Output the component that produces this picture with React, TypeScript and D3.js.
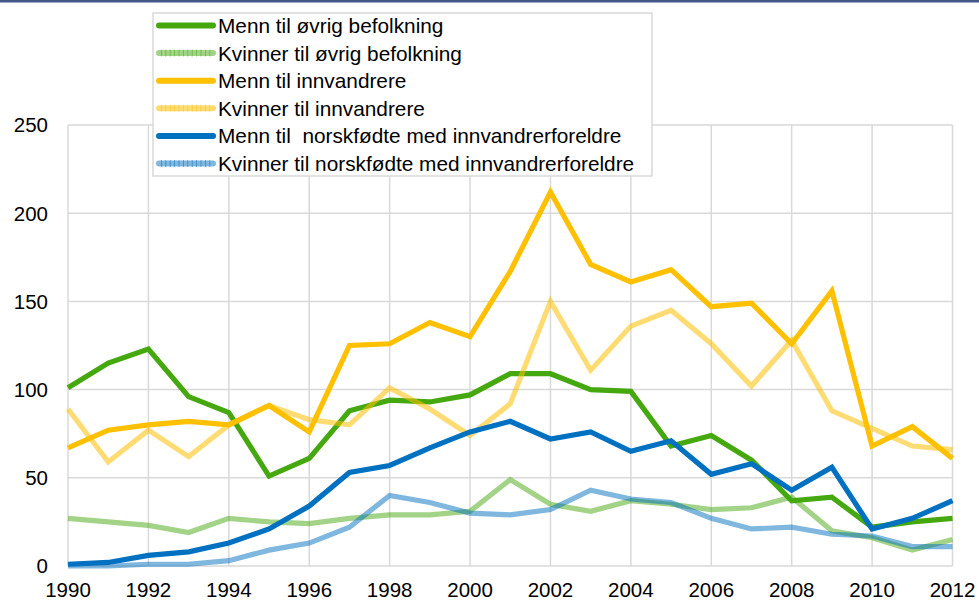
import React from 'react';
import * as d3 from 'd3';

const years = d3.range(1990, 2013);
const yTicks = [0, 50, 100, 150, 200, 250];
const xTicks = d3.range(1990, 2013, 2);

const menOvrig = [101, 115, 123, 96, 87, 51, 61, 88, 94, 93, 97, 109, 109, 100, 99, 68, 74, 60, 37, 39, 22, 25, 27];
const womenOvrig = [27, 25, 23, 19, 27, 25, 24, 27, 29, 29, 31, 49, 35, 31, 37, 35, 32, 33, 39, 20, 16, 9, 15];
const menInnv = [67, 77, 80, 82, 80, 91, 76, 125, 126, 138, 130, 167, 212, 171, 161, 168, 147, 149, 126, 156, 68, 79, 61];
const womenInnv = [89, 59, 77, 62, 80, 91, 83, 80, 101, 89, 74, 92, 150, 111, 136, 145, 126, 102, 128, 88, 78, 68, 66];
const menNorsk = [1, 2, 6, 8, 13, 21, 34, 53, 57, 67, 76, 82, 72, 76, 65, 71, 52, 58, 43, 56, 21, 27, 37];
const womenNorsk = [0, 0, 1, 1, 3, 9, 13, 22, 40, 36, 30, 29, 32, 43, 38, 36, 27, 21, 22, 18, 17, 11, 11];

const series = [
  { name: 'Menn til øvrig befolkning', values: menOvrig, color: '#45a80f', opacity: 1, hatch: false },
  { name: 'Kvinner til øvrig befolkning', values: womenOvrig, color: '#45a80f', opacity: 0.5, hatch: true },
  { name: 'Menn til innvandrere', values: menInnv, color: '#ffc000', opacity: 1, hatch: false },
  { name: 'Kvinner til innvandrere', values: womenInnv, color: '#ffc000', opacity: 0.55, hatch: true },
  { name: 'Menn til  norskfødte med innvandrerforeldre', values: menNorsk, color: '#0070c0', opacity: 1, hatch: false },
  { name: 'Kvinner til norskfødte med innvandrerforeldre', values: womenNorsk, color: '#0070c0', opacity: 0.5, hatch: true },
];

const W = 979;
const H = 601;
const font = '"Liberation Sans", Arial, sans-serif';

export default function App() {
  const x = d3.scaleLinear().domain([1990, 2012]).range([68, 952.5]);
  const y = d3.scaleLinear().domain([0, 250]).range([566, 125]);
  const line = d3.line<number>()
    .x((_, i) => x(years[i]))
    .y(d => y(d));

  const legendX = 153;
  const legendY = 13;
  const rowH = 27.6;

  return (
    <svg width={W} height={H} style={{ position: 'absolute', left: 0, top: 0, background: '#fff' }}>
      <rect x={0} y={0} width={W} height={2.5} fill="#435a89" />

      {/* grid */}
      <g stroke="#d9d9d9" strokeWidth={1.5}>
        {yTicks.map(t => (
          <line key={'h' + t} x1={x(1990)} x2={x(2012)} y1={y(t)} y2={y(t)} />
        ))}
        {xTicks.map(t => (
          <line key={'v' + t} x1={x(t)} x2={x(t)} y1={y(0)} y2={y(250)} />
        ))}
      </g>

      {/* axis labels */}
      <g fontFamily={font} fontSize={20.5} fill="#000">
        {yTicks.map(t => (
          <text key={'yl' + t} x={48} y={y(t)} dy="0.36em" textAnchor="end">{t}</text>
        ))}
        {xTicks.map(t => (
          <text key={'xl' + t} x={x(t)} y={597} textAnchor="middle">{t}</text>
        ))}
      </g>

      {/* lines */}
      <g fill="none" strokeWidth={5.2} strokeLinejoin="miter">
        {series.map(s => (
          <path key={s.name} d={line(s.values) || ''} stroke={s.color} strokeOpacity={s.opacity} />
        ))}
      </g>

      {/* legend */}
      <rect x={legendX} y={legendY} width={499} height={163} fill="#fff" stroke="#d9d9d9" strokeWidth={1.5} />
      {series.map((s, i) => {
        const cy = legendY + 12.5 + i * rowH;
        return (
          <g key={'lg' + s.name}>
            <line x1={159} x2={213} y1={cy} y2={cy} stroke={s.color} strokeOpacity={s.opacity}
              strokeWidth={6} strokeLinecap="round" />
            {s.hatch && (
              <line x1={161} x2={212} y1={cy} y2={cy} stroke={s.color} strokeOpacity={0.6}
                strokeWidth={7} strokeDasharray="0.8 3.6" />
            )}
            <text x={218} y={cy} dy="0.36em" fontFamily={font} fontSize={20.8} fill="#000"
              style={{ whiteSpace: 'pre' }}>{s.name}</text>
          </g>
        );
      })}
    </svg>
  );
}
